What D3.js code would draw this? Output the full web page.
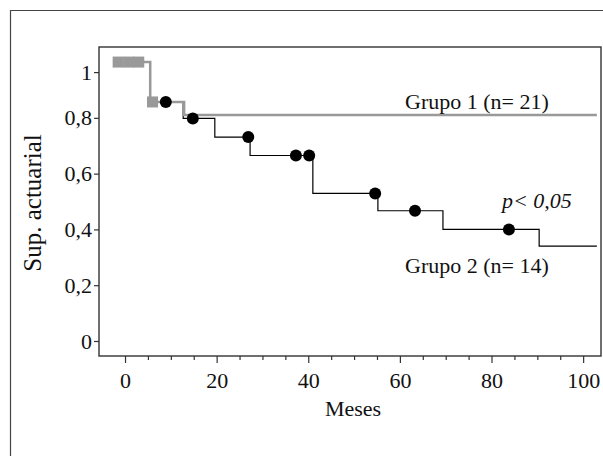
<!DOCTYPE html>
<html><head><meta charset="utf-8">
<script src="https://cdn.jsdelivr.net/npm/d3@7"></script>
<style>body{margin:0;background:#fff}svg{display:block}text{font-family:"Liberation Serif","Times New Roman",serif}</style>
</head><body><svg id="c" width="603" height="456"></svg>
<script>
// Group 1 (n=21) step function
const g1Times = [0, 5.5, 12.9];
const g1Surv  = [1, 0.857, 0.81];
const g1End = 103;
const g1Censor = [-1.5, 0.8, 3, 6];
// Group 2 (n=14) step function
const g2Times = [0, 5.5, 12.7, 19.6, 27.3, 41, 55.2, 69.4, 90.4];
const g2Surv  = [1, 0.857, 0.798, 0.731, 0.665, 0.529, 0.467, 0.400, 0.340];
const g2End = 103;
const g2Censor = [8.9, 14.8, 26.9, 37.3, 40.2, 54.6, 63.3, 83.8];
const xTicks = [0, 20, 40, 60, 80, 100];
const xMinor = [5,10,15,25,30,35,45,50,55,65,70,75,85,90,95];
const yTicks = [0, 0.2, 0.4, 0.6, 0.8, 0.964];
const yTickLabels = ["0", "0,2", "0,4", "0,6", "0,8", "1"];

const svg = d3.select("#c");
const L = 99, T = 47, R = 601, B = 356;
const x = d3.scaleLinear().domain([-5.68, 103.9]).range([L, R]);
const y = d3.scaleLinear().domain([-0.0538, 1.054]).range([B, T]);
const FS = 22;

// outer frame
svg.append("path").attr("d", `M10.5,456 V10.5 H603`).attr("fill","none").attr("stroke","#444").attr("stroke-width",1.2);

// plot box
svg.append("rect").attr("x", L).attr("y", T).attr("width", R-L).attr("height", B-T)
  .attr("fill","none").attr("stroke","#333").attr("stroke-width",1.4);

// axes
const xAx = svg.append("g").attr("transform", `translate(0,${B})`)
  .call(d3.axisBottom(x).tickValues(xTicks).tickSize(7).tickPadding(4).tickFormat(d3.format("d")));
const xMin = svg.append("g").attr("transform", `translate(0,${B})`)
  .call(d3.axisBottom(x).tickValues(xMinor).tickSize(4).tickFormat(""));
const yAx = svg.append("g").attr("transform", `translate(${L},0)`)
  .call(d3.axisLeft(y).tickValues(yTicks).tickSize(5).tickPadding(2).tickFormat((d,i)=>yTickLabels[i]));
[xAx, xMin, yAx].forEach(g => {
  g.select(".domain").remove();
  g.selectAll("line").attr("stroke","#333").attr("stroke-width",1.2);
  g.selectAll("text").attr("font-size", FS).attr("fill","#111").style("font-family","'Liberation Serif',serif");
});
xAx.selectAll("text").attr("y", 0).attr("dy", 0).attr("transform", "translate(0,32)");

function stepPath(times, surv, end) {
  const pts = [];
  times.forEach((t,i) => {
    if (i > 0) pts.push([t, surv[i-1]]);
    pts.push([t, surv[i]]);
  });
  pts.push([end, surv[surv.length-1]]);
  return d3.line().x(d => x(d[0])).y(d => y(d[1]))(pts);
}
function survAt(times, surv, t) {
  let v = surv[0];
  times.forEach((tt,i) => { if (t >= tt) v = surv[i]; });
  return v;
}

// group 2 (black)
svg.append("path").attr("d", stepPath(g2Times, g2Surv, g2End)).attr("fill","none").attr("stroke","#000").attr("stroke-width",1.2);
// group 1 (gray)
svg.append("path").attr("d", stepPath(g1Times, g1Surv, g1End)).attr("fill","none").attr("stroke","#999").attr("stroke-width",2.5);

svg.append("g").selectAll("rect").data(g1Censor).join("rect")
  .attr("x", d => x(d) - 5.5).attr("y", d => y(survAt(g1Times, g1Surv, Math.max(d,0))) - 5.5)
  .attr("width", 11).attr("height", 11).attr("fill", "#999");

svg.append("g").selectAll("circle").data(g2Censor).join("circle")
  .attr("cx", d => x(d)).attr("cy", d => y(survAt(g2Times, g2Surv, d)))
  .attr("r", 6).attr("fill", "#000");

// labels
svg.append("text").attr("x", 405).attr("y", 109).attr("font-size",FS).attr("fill","#111").text("Grupo 1 (n= 21)");
svg.append("text").attr("x", 405).attr("y", 273).attr("font-size",FS).attr("fill","#111").text("Grupo 2 (n= 14)");
svg.append("text").attr("x", 502).attr("y", 208).attr("font-size",FS).attr("font-style","italic").attr("fill","#111").text("p< 0,05");
svg.append("text").attr("x", 353).attr("y", 416).attr("text-anchor","middle").attr("font-size",FS).attr("fill","#111").text("Meses");
svg.append("text").attr("transform","translate(41,203) rotate(-90)").attr("text-anchor","middle").attr("font-size",25).attr("fill","#111").text("Sup. actuarial");
</script></body></html>
